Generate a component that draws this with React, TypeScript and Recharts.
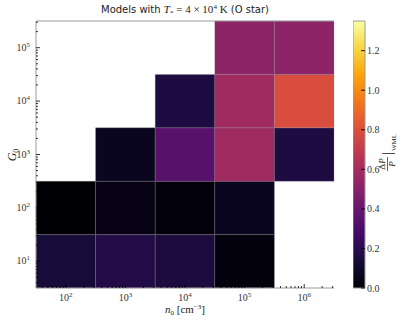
import React from "react";
import { ComposedChart, XAxis, YAxis, ReferenceArea, Scatter } from "recharts";

// grid of models: columns = n0 (cm^-3), rows = G0
const nCenters = [1e2, 1e3, 1e4, 1e5, 1e6];
const g0Centers = [1e1, 1e2, 1e3, 1e4, 1e5];

// ΔP/P|WML per row (G0 = 10^1 ... 10^5), one entry per n0 column, null = no model
const rowG1 = [0.135, 0.175, 0.155, 0.02, null];
const rowG2 = [0.0, 0.04, 0.02, 0.07, null];
const rowG3 = [null, 0.07, 0.34, 0.58, 0.16];
const rowG4 = [null, null, 0.16, 0.58, 0.79];
const rowG5 = [null, null, null, 0.52, 0.52];
const rows = [rowG1, rowG2, rowG3, rowG4, rowG5];

const cbarTicks = [0, 0.2, 0.4, 0.6, 0.8, 1.0, 1.2];
const vmax = 1.35;

const INFERNO = [
  "#000004", "#160b39", "#420a68", "#6a176e", "#932667", "#bc3754",
  "#dd513a", "#f37819", "#fca50a", "#f6d746", "#fcffa4",
];

function hex(c: string) {
  return [1, 3, 5].map((i) => parseInt(c.slice(i, i + 2), 16));
}

function inferno(t: number) {
  const f = Math.max(0, Math.min(1, t)) * (INFERNO.length - 1);
  const i = Math.min(INFERNO.length - 2, Math.floor(f));
  const a = hex(INFERNO[i]);
  const b = hex(INFERNO[i + 1]);
  const k = f - i;
  const c = a.map((v, j) => Math.round(v + (b[j] - v) * k));
  return `rgb(${c[0]},${c[1]},${c[2]})`;
}

const half = Math.sqrt(10);
const xDomain = [nCenters[0] / half, nCenters[nCenters.length - 1] * half];
const yDomain = [g0Centers[0] / half, g0Centers[g0Centers.length - 1] * half];

function logTicks(lo: number, hi: number) {
  const out: number[] = [];
  for (let e = Math.floor(Math.log10(lo)); e <= Math.ceil(Math.log10(hi)); e++) {
    for (let k = 1; k <= 9; k++) {
      const v = k * Math.pow(10, e);
      if (v >= lo && v <= hi) out.push(v);
    }
  }
  return out;
}
const xTicks = logTicks(xDomain[0], xDomain[1]);
const yTicks = logTicks(yDomain[0], yDomain[1]);

const cells = rows.flatMap((row, r) =>
  row.map((v, c) => ({ n: nCenters[c], g: g0Centers[r], v }))
);
const cbarData = cbarTicks.map((v) => ({ x: 0.5, y: v }));

const serif = "'Liberation Serif', 'DejaVu Serif', serif";
const sans = "'DejaVu Sans', 'Liberation Sans', sans-serif";
const frame = "#9a9a9a";
const ink = "#222";

function Pow10({ x, y, v, anchor }: any) {
  const e = Math.round(Math.log10(v));
  return (
    <text x={x} y={y} textAnchor={anchor} fontFamily={serif} fontSize={10} fill="#333">
      10
      <tspan dy={-4} fontSize={7}>{e}</tspan>
    </text>
  );
}

function LogTick(props: any) {
  const { x, y, payload, side, labels } = props;
  const v = payload.value;
  const lg = Math.log10(v);
  const major = Math.abs(lg - Math.round(lg)) < 1e-6;
  const len = major ? 4 : 2;
  let line;
  if (side === "bottom") line = <line x1={x} y1={y} x2={x} y2={y - len} />;
  else if (side === "top") line = <line x1={x} y1={y} x2={x} y2={y + len} />;
  else if (side === "left") line = <line x1={x} y1={y} x2={x + len} y2={y} />;
  else line = <line x1={x} y1={y} x2={x - len} y2={y} />;
  return (
    <g>
      <g stroke="#000" strokeWidth={0.8}>{line}</g>
      {labels && major && side === "bottom" && <Pow10 x={x} y={y + 13} v={v} anchor="middle" />}
      {labels && major && side === "left" && <Pow10 x={x - 6} y={y + 3} v={v} anchor="end" />}
    </g>
  );
}

function CbarTick(props: any) {
  const { x, y, payload } = props;
  return (
    <g>
      <line x1={x - 4} y1={y} x2={x} y2={y} stroke="#000" strokeWidth={0.9} />
      <text x={x + 2} y={y + 3.5} fontFamily={serif} fontSize={10} fill="#333">
        {payload.value.toFixed(1)}
      </text>
    </g>
  );
}

const blank = () => <g />;

function Axes({ draw }: { draw: boolean }) {
  const line = draw ? { stroke: frame } : false;
  return (
    <>
      <XAxis
        xAxisId={0}
        dataKey="n"
        type="number"
        scale="log"
        domain={xDomain}
        allowDataOverflow
        ticks={xTicks}
        interval={0}
        height={35}
        tickSize={0}
        tickMargin={0}
        tickLine={false}
        axisLine={line}
        tick={draw ? (p: any) => <LogTick {...p} side="bottom" labels /> : blank}
      />
      <XAxis
        xAxisId="top"
        orientation="top"
        type="number"
        scale="log"
        domain={xDomain}
        allowDataOverflow
        ticks={xTicks}
        interval={0}
        height={21}
        tickSize={0}
        tickMargin={0}
        tickLine={false}
        axisLine={line}
        tick={draw ? (p: any) => <LogTick {...p} side="top" /> : blank}
      />
      <YAxis
        yAxisId={0}
        dataKey="g"
        type="number"
        scale="log"
        domain={yDomain}
        allowDataOverflow
        ticks={yTicks}
        interval={0}
        width={36}
        tickSize={0}
        tickMargin={0}
        tickLine={false}
        axisLine={line}
        tick={draw ? (p: any) => <LogTick {...p} side="left" labels /> : blank}
      />
      <YAxis
        yAxisId="right"
        orientation="right"
        type="number"
        scale="log"
        domain={yDomain}
        allowDataOverflow
        ticks={yTicks}
        interval={0}
        width={0}
        tickSize={0}
        tickMargin={0}
        tickLine={false}
        axisLine={line}
        tick={draw ? (p: any) => <LogTick {...p} side="right" /> : blank}
      />
      <Scatter data={cells} dataKey="g" shape={blank} isAnimationActive={false} />
    </>
  );
}

const layer = { position: "absolute" as const, left: 0, top: 0 };
const chartMargin = { top: 0, right: 81, bottom: 0, left: 0 };

export default function App() {
  return (
    <div style={{ position: "absolute", left: 0, top: 0, width: 415, height: 323, background: "#fff" }}>
      {/* heatmap cells */}
      <div style={layer}>
        <ComposedChart width={415} height={323} margin={chartMargin}>
          {cells.map((c, i) =>
            c.v === null ? null : (
              <ReferenceArea
                key={i}
                x1={c.n / half}
                x2={c.n * half}
                y1={c.g / half}
                y2={c.g * half}
                fill={inferno(c.v / vmax)}
                fillOpacity={1}
                stroke="#888"
                strokeOpacity={0.35}
                strokeWidth={0.8}
                ifOverflow="visible"
              />
            )
          )}
          <Axes draw={false} />
        </ComposedChart>
      </div>

      {/* frame and ticks on top of the cells */}
      <div style={{ ...layer, pointerEvents: "none" }}>
        <ComposedChart width={415} height={323} margin={chartMargin}>
          <Axes draw />
        </ComposedChart>
      </div>

      {/* colorbar */}
      <div style={{ position: "absolute", left: 353, top: 0 }}>
        <ComposedChart width={62} height={323} margin={{ top: 21, right: 0, bottom: 35, left: 0 }}>
          <defs>
            <linearGradient id="infernoBar" x1="0" y1="1" x2="0" y2="0">
              {INFERNO.map((c, i) => (
                <stop key={i} offset={`${(i / (INFERNO.length - 1)) * 100}%`} stopColor={c} />
              ))}
            </linearGradient>
          </defs>
          <ReferenceArea
            x1={0}
            x2={1}
            y1={0}
            y2={vmax}
            fill="url(#infernoBar)"
            fillOpacity={1}
            stroke={frame}
            strokeWidth={1}
            ifOverflow="visible"
          />
          <XAxis dataKey="x" type="number" domain={[0, 1]} hide />
          <YAxis
            dataKey="y"
            type="number"
            orientation="right"
            domain={[0, vmax]}
            ticks={cbarTicks}
            interval={0}
            width={50}
            tickSize={0}
            tickMargin={0}
            tickLine={false}
            axisLine={false}
            tick={(p: any) => <CbarTick {...p} />}
          />
          <Scatter data={cbarData} dataKey="y" shape={blank} isAnimationActive={false} />
        </ComposedChart>
      </div>

      {/* title and axis labels */}
      <svg width={415} height={323} style={{ ...layer, pointerEvents: "none" }}>
        <text x={185} y={13} textAnchor="middle" fill={ink} fontSize={10} fontFamily={sans}>
          Models with{" "}
          <tspan fontFamily={serif} fontStyle="italic" fontSize={11}>T</tspan>
          <tspan fontFamily={serif} fontSize={7} dy={2}>*</tspan>
          <tspan fontFamily={serif} fontSize={11} dy={-2}> = 4 × 10</tspan>
          <tspan fontFamily={serif} fontSize={7} dy={-4}>4</tspan>
          <tspan fontFamily={serif} fontSize={11} dy={4}> K</tspan>
          <tspan> (O star)</tspan>
        </text>

        <text x={185} y={313} textAnchor="middle" fill={ink} fontSize={11} fontFamily={serif}>
          <tspan fontStyle="italic">n</tspan>
          <tspan fontSize={7} dy={2}>0</tspan>
          <tspan dy={-2}> [cm</tspan>
          <tspan fontSize={7} dy={-4}>−3</tspan>
          <tspan dy={4}>]</tspan>
        </text>

        <g transform="translate(16,155) rotate(-90)">
          <text x={0} y={0} textAnchor="middle" fill={ink} fontSize={12} fontFamily={serif}>
            <tspan fontStyle="italic">G</tspan>
            <tspan fontSize={8} dy={3}>0</tspan>
          </text>
        </g>

        <g transform="translate(387,155) rotate(-90)" fill={ink} fontFamily={serif}>
          <text x={-9} y={-2} textAnchor="middle" fontSize={9}>
            Δ<tspan fontStyle="italic">P</tspan>
          </text>
          <line x1={-16} y1={0.5} x2={-2} y2={0.5} stroke={ink} strokeWidth={0.7} />
          <text x={-9} y={8} textAnchor="middle" fontSize={9} fontStyle="italic">P</text>
          <text x={0} y={5} fontSize={14}>|</text>
          <text x={4} y={9} fontSize={7}>WML</text>
        </g>
      </svg>
    </div>
  );
}
